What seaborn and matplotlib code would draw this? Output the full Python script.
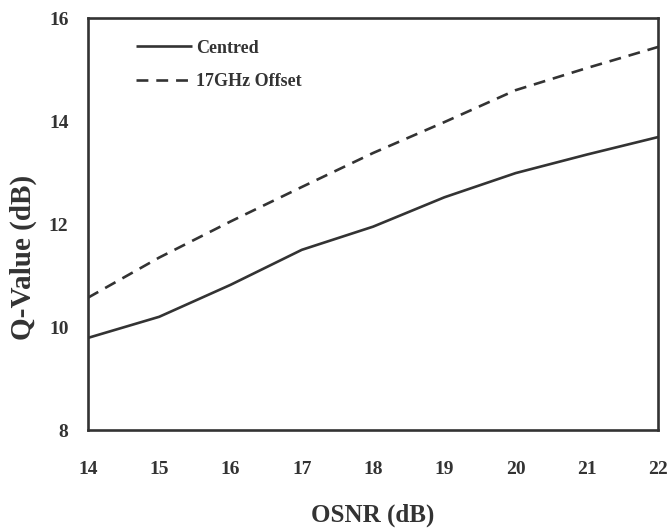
import matplotlib
matplotlib.use("Agg")
import matplotlib.pyplot as plt
import seaborn as sns
import pandas as pd

osnr = [14, 15, 16, 17, 18, 19, 20, 21, 22]
centred = [9.79, 10.2, 10.82, 11.5, 11.95, 12.52, 12.99, 13.35, 13.69]
offset = [10.57, 11.35, 12.05, 12.72, 13.38, 13.98, 14.6, 15.03, 15.44]
series_names = ["Centred", "17GHz Offset"]
x_ticks = [14, 15, 16, 17, 18, 19, 20, 21, 22]
y_ticks = [8, 10, 12, 14, 16]

df = pd.DataFrame({
    "OSNR": osnr * 2,
    "Q": centred + offset,
    "Series": [series_names[0]] * len(osnr) + [series_names[1]] * len(osnr),
})

sns.set_style("white")
plt.rcParams["font.family"] = ["Liberation Serif", "DejaVu Serif"]
plt.rcParams["font.weight"] = "bold"

dark = "#333333"
fig = plt.figure(figsize=(6.71, 5.31), dpi=100)
ax = fig.add_axes([0.131, 0.190, 0.850, 0.776])

sns.lineplot(data=df, x="OSNR", y="Q", style="Series", style_order=series_names,
             dashes=[(1, 0), (4.5, 3)], color=dark, linewidth=1.9, ax=ax,
             legend=True)

ax.set_xlim(14, 22)
ax.set_ylim(8, 16)
ax.set_xticks(x_ticks)
ax.set_yticks(y_ticks)
ax.set_xticklabels([str(v) for v in x_ticks], fontsize=14, fontweight="bold", color=dark)
ax.set_yticklabels([str(v) for v in y_ticks], fontsize=14, fontweight="bold", color=dark)
ax.tick_params(axis="both", direction="in", length=3, width=1.5, color=dark)
ax.tick_params(axis="x", pad=22)
ax.tick_params(axis="y", pad=14)

for s in ax.spines.values():
    s.set_color(dark)
    s.set_linewidth(1.9)
    s.set_visible(True)

ax.set_xlabel("OSNR (dB)", fontsize=18, fontweight="bold", color=dark, labelpad=19)
ax.set_ylabel("Q-Value (dB)", fontsize=21, fontweight="bold", color=dark)
ax.yaxis.set_label_coords(-0.09, 0.42)

leg = ax.legend(loc="upper left", bbox_to_anchor=(0.056, 0.987), frameon=False,
                fontsize=13, handlelength=3.1, handletextpad=0.2, labelspacing=0.9,
                title=None)
for t in leg.get_texts():
    t.set_color(dark)
    t.set_fontweight("bold")

fig.savefig("out.png", dpi=100)
